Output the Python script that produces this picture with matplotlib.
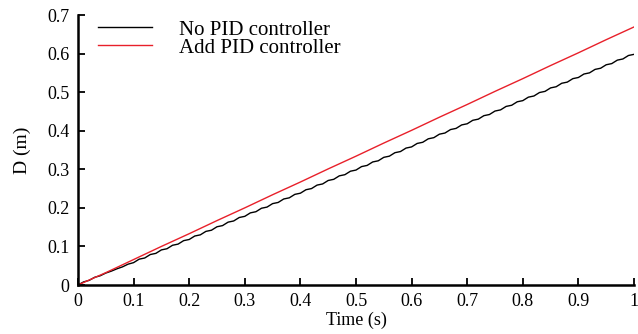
import matplotlib
matplotlib.use("Agg")
import matplotlib.pyplot as plt

t_black = [i / 100 for i in range(101)]
d_black = [
    0.000, 0.008, 0.012, 0.020, 0.024, 0.031, 0.036, 0.042, 0.047, 0.054,
    0.058, 0.067, 0.070, 0.079, 0.082, 0.091, 0.094, 0.103, 0.106, 0.115,
    0.118, 0.127, 0.130, 0.139, 0.142, 0.151, 0.154, 0.163, 0.166, 0.175,
    0.178, 0.187, 0.190, 0.199, 0.202, 0.211, 0.214, 0.223, 0.226, 0.235,
    0.238, 0.247, 0.250, 0.259, 0.262, 0.271, 0.274, 0.283, 0.286, 0.295,
    0.298, 0.307, 0.310, 0.319, 0.322, 0.331, 0.334, 0.343, 0.346, 0.355,
    0.358, 0.367, 0.370, 0.379, 0.382, 0.391, 0.394, 0.403, 0.406, 0.415,
    0.418, 0.427, 0.430, 0.439, 0.442, 0.451, 0.454, 0.463, 0.466, 0.475,
    0.478, 0.487, 0.490, 0.499, 0.502, 0.511, 0.514, 0.523, 0.526, 0.535,
    0.538, 0.547, 0.550, 0.559, 0.562, 0.571, 0.574, 0.583, 0.586, 0.595,
    0.598,
]
t_red = [i / 20 for i in range(21)]
d_red = [0.000, 0.032, 0.066, 0.100, 0.133, 0.167, 0.200, 0.234, 0.267, 0.301,
         0.334, 0.368, 0.401, 0.435, 0.468, 0.502, 0.535, 0.569, 0.602, 0.636,
         0.669]

x_ticks = [0, 0.1, 0.2, 0.3, 0.4, 0.5, 0.6, 0.7, 0.8, 0.9, 1]
x_labels = ["0", "0.1", "0.2", "0.3", "0.4", "0.5", "0.6", "0.7", "0.8", "0.9", "1"]
y_ticks = [0, 0.1, 0.2, 0.3, 0.4, 0.5, 0.6, 0.7]
y_labels = ["0", "0.1", "0.2", "0.3", "0.4", "0.5", "0.6", "0.7"]

plt.rcParams['font.family'] = ['Liberation Serif', 'DejaVu Serif']

fig = plt.figure(figsize=(6.38, 3.34), dpi=100)
ax = fig.add_axes([78/638, 1 - 285/334, (634-78)/638, (285-15)/334])

ax.plot(t_black, d_black, color='black', lw=1.0, label='No PID controller')
ax.plot(t_red, d_red, color='#e8202a', lw=1.0, label='Add PID controller')

ax.set_xlim(0, 1)
ax.set_ylim(0, 0.7)
ax.set_xticks(x_ticks)
ax.set_xticklabels(x_labels, fontsize=13)
ax.set_yticks(y_ticks)
ax.set_yticklabels(y_labels, fontsize=13)
ax.tick_params(direction='in', length=5, width=1.3)
ax.tick_params(axis='x', pad=6)
ax.tick_params(axis='y', pad=6)
for s in ['top', 'right']:
    ax.spines[s].set_visible(False)
for s in ['left', 'bottom']:
    ax.spines[s].set_linewidth(1.8)

ax.set_xlabel('Time (s)', fontsize=13, labelpad=1)
ax.set_ylabel('D (m)', fontsize=14, labelpad=12)

leg = ax.legend(loc='upper left', bbox_to_anchor=(0.01, 1.035), frameon=False,
                fontsize=15, handlelength=2.6, handletextpad=1.3,
                labelspacing=-0.08, borderaxespad=0.3)

fig.savefig('out.png', dpi=100)
